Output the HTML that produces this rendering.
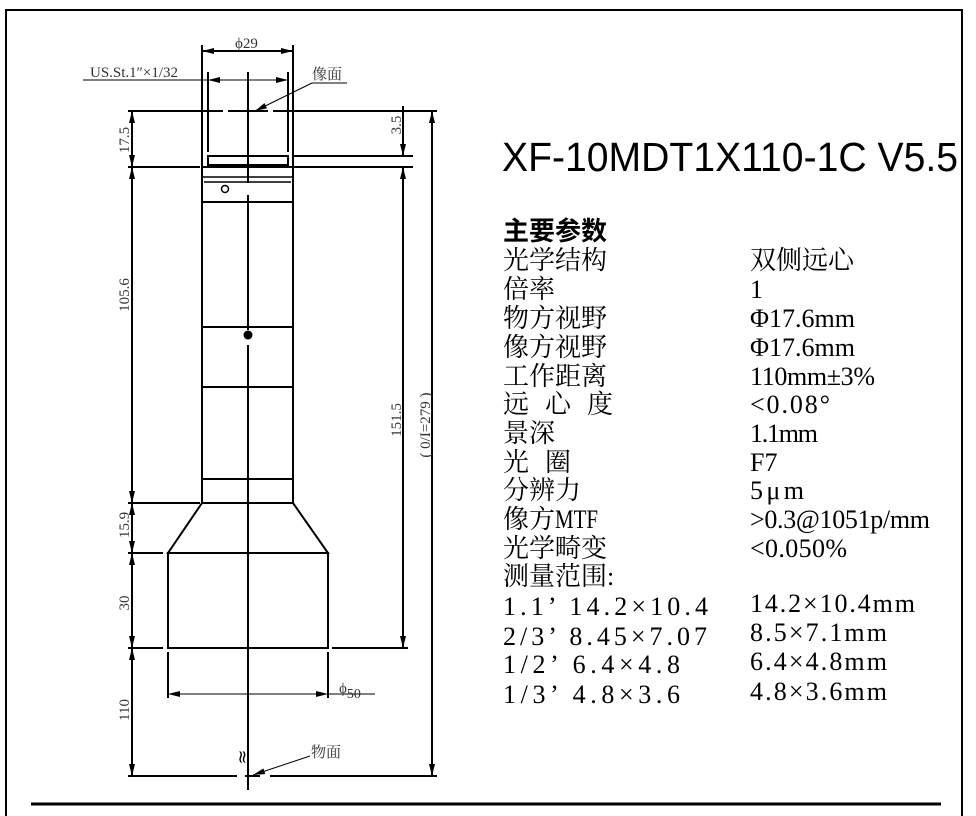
<!DOCTYPE html>
<html><head><meta charset="utf-8"><style>
html,body{margin:0;padding:0;background:#fff;}
svg{display:block;}
.d{font-family:"Liberation Serif","Noto Serif CJK SC",serif;font-size:15px;fill:#333;}
.t{font-family:"Liberation Serif","Noto Serif CJK SC",serif;font-size:26px;fill:#000;}
</style></head><body>
<svg width="976" height="816" viewBox="0 0 976 816" xmlns="http://www.w3.org/2000/svg">
<defs>
<marker id="a" viewBox="0 0 12 6" refX="12" refY="3" markerWidth="12" markerHeight="6" markerUnits="userSpaceOnUse" orient="auto"><path d="M0,0L12,3L0,6z" fill="#000"/></marker>
<marker id="b" viewBox="0 0 12 6" refX="0" refY="3" markerWidth="12" markerHeight="6" markerUnits="userSpaceOnUse" orient="auto"><path d="M12,0L0,3L12,6z" fill="#000"/></marker>
</defs>
<path d="M6,816V10H962V816" fill="none" stroke="#000" stroke-width="2"/>
<line x1="31" y1="804" x2="941" y2="804" stroke="#000" stroke-width="3"/>

<g stroke="#000" fill="none" stroke-width="2">
<line x1="202" y1="45" x2="202" y2="167"/>
<line x1="293" y1="45" x2="293" y2="167"/>
<line x1="202" y1="51" x2="293" y2="51" marker-start="url(#b)" marker-end="url(#a)"/>
<line x1="208" y1="72" x2="208" y2="152"/>
<line x1="288" y1="72" x2="288" y2="152"/>
<line x1="83" y1="80" x2="208" y2="80" stroke-width="1"/>
<line x1="208" y1="80" x2="288" y2="80" stroke-width="1" marker-start="url(#b)" marker-end="url(#a)"/>
<path d="M128,111H223M228,111H268M273,111H437"/>
<rect x="208" y="156" width="80" height="9"/>
<line x1="293" y1="156" x2="413" y2="156"/>
<line x1="128" y1="167" x2="200" y2="167"/>
<line x1="293" y1="167" x2="413" y2="167"/>
<rect x="202" y="167" width="91" height="336"/>
<line x1="202" y1="177" x2="293" y2="177" stroke-width="1.5"/>
<line x1="204" y1="182" x2="291" y2="182" stroke-width="1.5"/>
<line x1="202" y1="202" x2="293" y2="202"/>
<line x1="202" y1="327" x2="293" y2="327"/>
<line x1="202" y1="387" x2="293" y2="387"/>
<line x1="202" y1="479" x2="293" y2="479"/>
<circle cx="225" cy="189" r="3.5" stroke-width="1.5"/>
<line x1="128" y1="503" x2="200" y2="503"/>
<path d="M202,503L168,553H328L293,503"/>
<rect x="168" y="553" width="160" height="95"/>
<path d="M128,648H163M332,648H408"/>
<path d="M168,652V698M328,652V698"/>
<line x1="168" y1="694" x2="328" y2="694" stroke-width="1" marker-start="url(#b)" marker-end="url(#a)"/>
<line x1="328" y1="694" x2="375" y2="694" stroke-width="1"/>
<path d="M128,776H237M245,776H260M270,776H437"/>
<path d="M248,72V183M248,195V330M248,345V790"/>
<line x1="132" y1="111" x2="132" y2="167" marker-start="url(#b)" marker-end="url(#a)"/>
<line x1="132" y1="167" x2="132" y2="503" marker-start="url(#b)" marker-end="url(#a)"/>
<line x1="132" y1="503" x2="132" y2="553" marker-start="url(#b)" marker-end="url(#a)"/>
<line x1="132" y1="553" x2="132" y2="648" marker-start="url(#b)" marker-end="url(#a)"/>
<line x1="132" y1="648" x2="132" y2="776" marker-start="url(#b)" marker-end="url(#a)"/>
<line x1="128" y1="553" x2="163" y2="553"/>
<line x1="403" y1="106" x2="403" y2="156" marker-end="url(#a)"/>
<line x1="403" y1="167" x2="403" y2="648" marker-start="url(#b)" marker-end="url(#a)"/>
<line x1="432" y1="111" x2="432" y2="776" marker-start="url(#b)" marker-end="url(#a)"/>
<line x1="312" y1="83" x2="255" y2="111" stroke-width="1" marker-end="url(#a)"/>
<line x1="312" y1="83" x2="347" y2="83" stroke-width="1"/>
<line x1="310" y1="756" x2="253" y2="775" stroke-width="1" marker-end="url(#a)"/>
</g>
<circle cx="248" cy="335" r="4.5" fill="#000"/>
<text x="243" y="762" font-size="18" font-family="DejaVu Sans" text-anchor="middle" transform="rotate(-90 243 757)">≈</text>

<text class="d" x="235" y="48" font-size="16">ϕ29</text>
<text class="d" x="90" y="77" font-size="14">US.St.1″×1/32</text>
<text class="d" x="312" y="79" font-size="18" fill="#000">像面</text>
<text class="d" x="311" y="757" font-size="18" fill="#000">物面</text>
<text class="d" x="339" y="693" font-size="17">ϕ<tspan font-size="14" dy="5">50</tspan></text>
<text class="d" transform="translate(129,140) rotate(-90)" text-anchor="middle">17.5</text>
<text class="d" transform="translate(129,295) rotate(-90)" text-anchor="middle">105.6</text>
<text class="d" transform="translate(129,525) rotate(-90)" text-anchor="middle">15.9</text>
<text class="d" transform="translate(129,603) rotate(-90)" text-anchor="middle">30</text>
<text class="d" transform="translate(129,710) rotate(-90)" text-anchor="middle">110</text>
<text class="d" transform="translate(401,125) rotate(-90)" text-anchor="middle">3.5</text>
<text class="d" transform="translate(401,420) rotate(-90)" text-anchor="middle">151.5</text>
<text class="d" transform="translate(430,425) rotate(-90)" text-anchor="middle">( 0/I=279 )</text>

<text x="502" y="171" font-family="Liberation Sans,sans-serif" font-size="41" textLength="456" lengthAdjust="spacingAndGlyphs">XF-10MDT1X110-1C V5.5</text>

<g class="t">
<text x="503" y="240" font-weight="bold" font-family="Noto Sans CJK SC,sans-serif">主要参数</text>
<text x="503" y="269">光学结构</text>
<text x="503" y="298">倍率</text>
<text x="503" y="327">物方视野</text>
<text x="503" y="356">像方视野</text>
<text x="503" y="385">工作距离</text>
<text x="503" y="413">远<tspan x="545">心</tspan><tspan x="587">度</tspan></text>
<text x="503" y="442">景深</text>
<text x="503" y="471">光<tspan x="545">圈</tspan></text>
<text x="503" y="499">分辨力</text>
<text x="503" y="528">像方<tspan textLength="43" lengthAdjust="spacingAndGlyphs">MTF</tspan></text>
<text x="503" y="557">光学畸变</text>
<text x="503" y="585">测量范围:</text>
<text x="503" y="615" textLength="205" lengthAdjust="spacing">1.1’ 14.2×10.4</text>
<text x="503" y="645" textLength="204" lengthAdjust="spacing">2/3’ 8.45×7.07</text>
<text x="503" y="673" textLength="177" lengthAdjust="spacing">1/2’ 6.4×4.8</text>
<text x="503" y="703" textLength="177" lengthAdjust="spacing">1/3’ 4.8×3.6</text>

<text x="750" y="269">双侧远心</text>
<text x="750" y="298">1</text>
<text x="750" y="327" textLength="105" lengthAdjust="spacing">Φ17.6mm</text>
<text x="750" y="356" textLength="105" lengthAdjust="spacing">Φ17.6mm</text>
<text x="750" y="385" textLength="125" lengthAdjust="spacing">110mm±3%</text>
<text x="750" y="413" textLength="80" lengthAdjust="spacing">&lt;0.08°</text>
<text x="750" y="442" textLength="68" lengthAdjust="spacing">1.1mm</text>
<text x="750" y="471">F7</text>
<text x="750" y="499" textLength="54" lengthAdjust="spacing">5μm</text>
<text x="750" y="528" textLength="180" lengthAdjust="spacing">&gt;0.3@1051p/mm</text>
<text x="750" y="557" textLength="97" lengthAdjust="spacing">&lt;0.050%</text>
<text x="750" y="612" textLength="165" lengthAdjust="spacing">14.2×10.4mm</text>
<text x="750" y="641" textLength="137" lengthAdjust="spacing">8.5×7.1mm</text>
<text x="750" y="670" textLength="137" lengthAdjust="spacing">6.4×4.8mm</text>
<text x="750" y="700" textLength="137" lengthAdjust="spacing">4.8×3.6mm</text>
</g>
</svg>
</body></html>
